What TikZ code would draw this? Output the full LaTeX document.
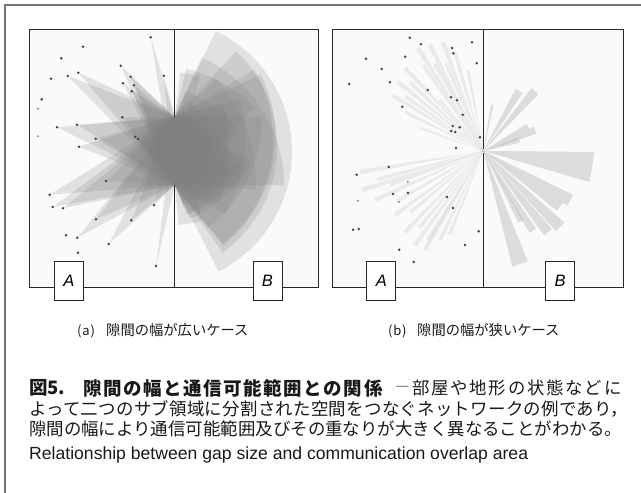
\documentclass[tikz,border=0pt]{standalone}
\usepackage{fontspec}
\setmainfont{Liberation Sans}
\newfontfamily\jp{Noto Sans CJK JP}
\newfontfamily\dashfont{Liberation Serif}
\usetikzlibrary{calc}
\tikzset{
  conefill/.style={fill=black!50, fill opacity=0.2},
  barfill/.style={fill=black!45, fill opacity=0.27},
  linefill/.style={fill=black!50, fill opacity=0.13},
  dotmark/.style={fill=black!75},
  faintdot/.style={fill=black!45},
  panelline/.style={draw=black!85, line width=1pt},
  framel/.style={draw=black!55, line width=1.2pt},
  lblbox/.style={draw=black!85, line width=1pt, fill=white, minimum width=29pt, minimum height=39pt, inner sep=0pt, font=\fontsize{16.5}{16.5}\selectfont\itshape},
  captxt/.style={inner sep=0pt, anchor=west, text=black!90},
}
\newcommand\conea[2]{\begin{scope}\clip (#1) circle (#2pt);\fill[conefill] (#1) -- ($(#1)!1000pt!(ga1)$) -- ($(#1)!1000pt!(ga2)$) -- cycle;\end{scope}}
\newcommand\wdg[4]{\fill[#4] (gb) -- +({-(#1)-(#2)}:#3pt) -- +({-(#1)+(#2)}:#3pt) -- cycle;}
\newcommand\paren[1]{\makebox[29pt][l]{\fontsize{13}{13}\selectfont(\kern0.8pt#1\kern0.8pt)}}
\begin{document}
\begin{tikzpicture}[x=1pt,y=-1pt]
\useasboundingbox (0,0) rectangle (641,493);
% outer frame
\coordinate (fbl) at (5,493);
\coordinate (ftl) at (5,5);
\coordinate (ftr) at (641,5);
\draw[framel] (fbl) -- (ftl) -- (ftr);

% ---------------- panel (a) ----------------
\coordinate (pa1) at (29.7,29.7);
\coordinate (pa2) at (318.7,287);
\coordinate (wat) at (174.7,29.7);
\coordinate (wab) at (174.7,287);
\coordinate (ga1) at (174.7,117);
\coordinate (ga2) at (174.7,185);
\fill[black!2] (pa1) rectangle (pa2);
\foreach \n/\x/\y in {a1/150.7/37.3, a2/83/46.7, a3/61.3/58.3, a4/163.7/75.7, a5/51/78.7,
  a6/67.7/76, a7/78.3/72.7, a8/120.7/65.7, a9/130.7/76.7, a10/123/83.3, a11/134/85.3,
  a12/131.7/91.3, a13/41.7/99.3, a14/38/108.7, a15/122.3/117.3, a16/77/124.7, a17/57/127.3,
  a18/38/136.3, a19/95.7/138.7, a20/135.3/136.7, a21/138/139, a22/79/146.7, a23/147.3/146.3,
  a24/106/181, a25/144/185, a26/49.7/194.7, a27/52.7/207, a28/63/208.3, a29/154/205,
  a30/96/219.3, a31/131.3/220.3, a32/66/235.3, a33/77.3/237.7, a34/108.7/244, a35/78/252.7,
  a36/156/266, h1/158/152}
  {\coordinate (\n) at (\x,\y);}
\begin{scope}
\clip (pa1) rectangle (pa2);
\foreach \n/\r in {a1/150, a4/150, a6/150, a7/150, a8/150, a9/140, a10/145, a11/140, a12/140,
  a15/140, a16/150, a17/150, a19/150, a20/140, a21/135, a22/150, a23/130, a24/150, a25/140,
  a26/150, a27/150, a28/150, a29/140, a30/150, a31/140, a33/150, a34/150, a36/195, h1/134}
  {\conea{\n}{\r}}
\end{scope}
\foreach \n in {a1,a2,a3,a4,a5,a6,a7,a8,a9,a10,a11,a12,a13,a15,a16,a17,a19,a20,a21,a22,a24,
  a26,a27,a28,a29,a30,a31,a32,a33,a34,a35,a36}
  {\fill[dotmark] (\n) circle (1.4pt);}
\foreach \n in {a14,a18,a23,a25}
  {\fill[faintdot] (\n) circle (1.1pt);}
\draw[panelline] (pa1) rectangle (pa2);
\draw[panelline] (wat) -- (ga1);
\draw[panelline] (ga2) -- (wab);
\node[lblbox] (la) at (68.8,280.5) {A};
\node[lblbox] (lb) at (267.5,280.5) {B};

% ---------------- panel (b) ----------------
\coordinate (pb1) at (332.7,29.7);
\coordinate (pb2) at (623.3,287);
\coordinate (wbt) at (483.3,29.7);
\coordinate (wbb) at (483.3,287);
\coordinate (gb1) at (483.3,149);
\coordinate (gb2) at (483.3,153);
\coordinate (gb) at (483.3,151);
\fill[black!2] (pb1) rectangle (pb2);
\begin{scope}
\clip (pb1) rectangle (pb2);
% side A thin wedges
\foreach \a/\l in {-122.4/122, -116.7/118.6, -110.3/116.2, -106/103, -100.7/82.4, -133.3/114,
  -141/109.7, -148.5/107, -153.5/87.5, -160/67, -130.3/67, 170.3/125, 162.2/127, 155.7/119,
  160/99.3, 144.1/109, 134/112.7, 126/116, 120.5/115, 116/99,
  -125/105, -119/100, -137/100, -145/95, -113/95, 165/110, 150/100, 140/95, 130/100, 122/105, 112/90}
  {\wdg{\a}{1.1}{\l}{linefill}}
% side B wedges
\wdg{8.4}{7.9}{111}{barfill}
\wdg{72}{3.9}{119}{barfill}
\wdg{29.5}{3.5}{100}{barfill}
\wdg{36}{3}{95}{barfill}
\wdg{44.6}{3.2}{108}{barfill}
\wdg{51.4}{2.8}{104}{barfill}
\wdg{58.2}{2.4}{94}{barfill}
\wdg{62}{2}{80}{barfill}
\wdg{-59.2}{3.3}{70}{barfill}
\wdg{-49.2}{3.3}{79}{barfill}
\wdg{-22}{4}{56}{barfill}
\wdg{-29}{3}{51}{barfill}
\wdg{-16.7}{4}{38}{barfill}
\wdg{-79}{1.5}{47}{barfill}
\end{scope}
\foreach \n/\x/\y in {b1/409.7/37.7, b2/421/44.3, b3/452/48, b4/453.3/53.3, b5/472/42.3,
  b6/366/58.7, b7/405.3/56.7, b8/476.7/63.3, b9/381.7/69, b10/349.3/84, b11/390/82.3,
  b12/427.7/90, b13/451/97.3, b14/457/100.3, b15/462.7/114.7, b16/402.3/106.7, b17/452.7/126,
  b18/459.7/127.3, b19/451.3/131, b20/455.3/132, b21/480/137.3, b22/456/148, b23/388.7/167,
  b24/356.7/174.7, b26/393/194, b27/408/193, b30/447/197, b31/453/208,
  b32/353/229.7, b33/358.7/229, b34/478.7/231.3, b35/465/245, b36/399.3/249.7, b37/413.7/262}
  {\coordinate (\n) at (\x,\y); \fill[dotmark] (\n) circle (1.4pt);}
\foreach \n/\x/\y in {b25/407.7/182, b28/399/202, b29/358/200.7}
  {\coordinate (\n) at (\x,\y); \fill[faintdot] (\n) circle (1.1pt);}
\draw[panelline] (pb1) rectangle (pb2);
\draw[panelline] (wbt) -- (gb1);
\draw[panelline] (gb2) -- (wbb);
\node[lblbox] (lc) at (381.3,280.5) {A};
\node[lblbox] (ld) at (560,280.5) {B};

% ---------------- captions ----------------
\node[captxt, font=\jp\fontsize{14.3}{14.3}\selectfont] (capa) at (77,331)
  {\paren{a}隙間の幅が広いケース};
\node[captxt, font=\jp\fontsize{14.3}{14.3}\selectfont] (capb) at (388,331)
  {\paren{b}隙間の幅が狭いケース};
\node[captxt, font=\jp\bfseries\fontsize{18.5}{18.5}\selectfont] (l1a) at (29,388) {図5.};
\node[captxt, font=\jp\bfseries\fontsize{18.5}{18.5}\selectfont\addfontfeature{LetterSpace=8.5}] (l1b) at (83,388) {隙間の幅と通信可能範囲との関係};
\node[inner sep=0pt, text=black!90, font=\dashfont\fontsize{12}{12}\selectfont] (l1d) at (402.5,388) {—};
\node[captxt, font=\jp\fontsize{17.4}{17.4}\selectfont\addfontfeature{LetterSpace=10.3}] (l1c) at (412,388) {部屋や地形の状態などに};
\node[captxt, font=\jp\fontsize{17.45}{17.45}\selectfont\addfontfeature{LetterSpace=1.5}] (l2) at (29,408.5) {よって二つのサブ領域に分割された空間をつなぐネットワークの例であり，};
\node[captxt, font=\jp\fontsize{17.45}{17.45}\selectfont] (l3) at (29,428.5) {隙間の幅により通信可能範囲及びその重なりが大きく異なることがわかる。};
\node[inner sep=0pt, anchor=base west, text=black!90, font=\fontsize{17.6}{17.6}\selectfont] (l4) at (29,459.3) {Relationship between gap size and communication overlap area};
\end{tikzpicture}
\end{document}
